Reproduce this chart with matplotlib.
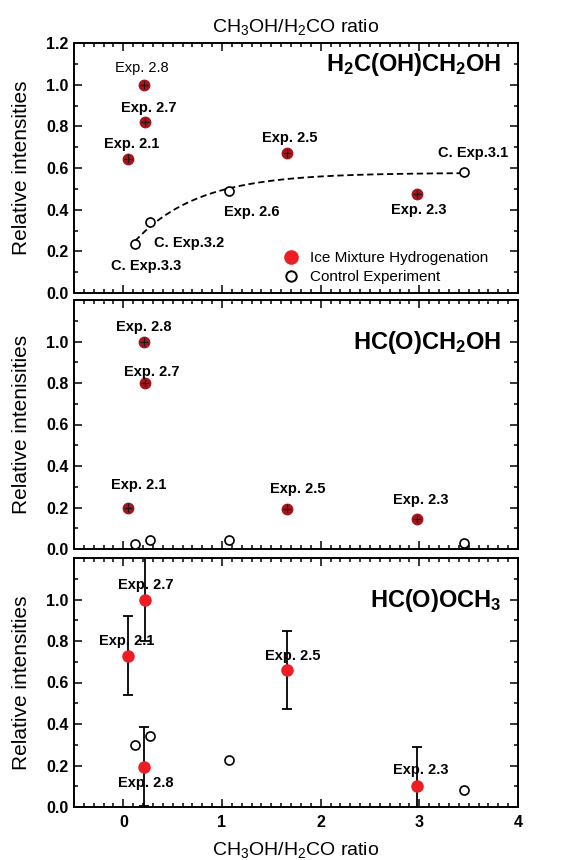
import numpy as np
import matplotlib
matplotlib.use("Agg")
import matplotlib.pyplot as plt
from matplotlib.ticker import MultipleLocator
from matplotlib.lines import Line2D

plt.rcParams['font.family'] = ['Liberation Sans', 'DejaVu Sans']
plt.rcParams['mathtext.default'] = 'regular'

# ---- data ----
ctrl_x = [0.12, 0.27, 1.07, 3.45]

# panel 1: H2C(OH)CH2OH
p1_labels = ["Exp. 2.1", "Exp. 2.7", "Exp. 2.8", "Exp. 2.5", "Exp. 2.3"]
p1_x = [0.05, 0.22, 0.21, 1.66, 2.98]
p1_y = [0.645, 0.82, 1.0, 0.67, 0.475]
p1_ctrl_y = [0.235, 0.34, 0.49, 0.58]
p1_ctrl_labels = ["C. Exp.3.3", "C. Exp.3.2", "Exp. 2.6", "C. Exp.3.1"]

# panel 2: HC(O)CH2OH
p2_labels = ["Exp. 2.1", "Exp. 2.7", "Exp. 2.8", "Exp. 2.5", "Exp. 2.3"]
p2_x = [0.05, 0.22, 0.21, 1.66, 2.98]
p2_y = [0.20, 0.80, 1.0, 0.195, 0.145]
p2_ctrl_y = [0.025, 0.045, 0.045, 0.03]

# panel 3: HC(O)OCH3
p3_labels = ["Exp. 2.1", "Exp. 2.7", "Exp. 2.8", "Exp. 2.5", "Exp. 2.3"]
p3_x = [0.05, 0.22, 0.21, 1.66, 2.98]
p3_y = [0.73, 1.0, 0.195, 0.66, 0.10]
p3_err = [0.19, 0.20, 0.19, 0.19, 0.19]
p3_ctrl_y = [0.30, 0.34, 0.225, 0.08]

small_xerr = [0.04, 0.04, 0.04, 0.04, 0.04]
small_yerr = [0.02, 0.02, 0.02, 0.02, 0.02]

compounds = [r"H$_2$C(OH)CH$_2$OH", r"HC(O)CH$_2$OH", r"HC(O)OCH$_3$"]
ylabels = ["Relative intensities", "Relative intenisities", "Relative intensities"]
xticks = [0, 1, 2, 3, 4]

# ---- figure ----
W, H = 568, 860
fig = plt.figure(figsize=(W / 100, H / 100), dpi=100)
left, right = 74 / W, 518 / W
boxes = [(43, 293), (300, 549), (558, 807)]
axes = []
for (t, b) in boxes:
    ax = fig.add_axes([left, 1 - b / H, right - left, (b - t) / H])
    axes.append(ax)

dark_red = '#a8141c'
bright_red = '#ee1c24'

for i, ax in enumerate(axes):
    ax.set_xlim(-0.5, 4)
    ax.set_ylim(0, 1.2)
    ax.xaxis.set_major_locator(MultipleLocator(1))
    ax.xaxis.set_minor_locator(MultipleLocator(0.1))
    if i == 0:
        ax.set_yticks([0, 0.2, 0.4, 0.6, 0.8, 1.0, 1.2])
    else:
        ax.set_yticks([0, 0.2, 0.4, 0.6, 0.8, 1.0])
    ax.yaxis.set_minor_locator(MultipleLocator(0.1))
    ax.tick_params(which='both', direction='in', top=True, right=True, width=1.1)
    ax.tick_params(which='major', length=6)
    ax.tick_params(which='minor', length=3)
    ax.tick_params(axis='y', labelsize=11.5, pad=4)
    ax.tick_params(axis='x', labelsize=11.5, pad=6)
    for lab in ax.get_yticklabels():
        lab.set_fontweight('bold')
    for s in ax.spines.values():
        s.set_linewidth(1.4)
    if i < 2:
        ax.tick_params(axis='x', labelbottom=False)
    else:
        ax.set_xticks(xticks)
        ax.set_xticklabels([str(v) for v in xticks], fontweight='bold')
    ax.set_ylabel(ylabels[i], fontsize=15, labelpad=11)
    ax.text(0.962, 0.915 if i == 0 else 0.83, compounds[i], transform=ax.transAxes,
            ha='right', va='center', fontsize=17, fontweight='bold')

def small_points(ax, xs, ys):
    ax.plot(xs, ys, 'o', color=dark_red, ms=7.5, mec=dark_red, zorder=3)
    ax.errorbar(xs, ys, xerr=small_xerr, yerr=small_yerr, fmt='none',
                ecolor='#1a1a1a', elinewidth=0.9, zorder=4)

# panel 1
ax = axes[0]
small_points(ax, p1_x, p1_y)
ax.plot(ctrl_x, p1_ctrl_y, 'o', mfc='white', mec='black', ms=6.5, mew=1.2, zorder=4)
# exponential saturation fit to control points
cx = np.array(ctrl_x); cy = np.array(p1_ctrl_y)
best = None
for tau in np.linspace(0.1, 3, 300):
    M = np.column_stack([np.ones_like(cx), np.exp(-cx / tau)])
    coef, res, *_ = np.linalg.lstsq(M, cy, rcond=None)
    r = np.sum((M @ coef - cy) ** 2)
    if best is None or r < best[0]:
        best = (r, tau, coef)
_, tau, coef = best
xf = np.linspace(cx.min(), cx.max(), 200)
ax.plot(xf, coef[0] + coef[1] * np.exp(-xf / tau), color='black', lw=1.3,
        dashes=(3.5, 2), zorder=2)

p1_lab_pos = [(0.08, 0.715), (0.26, 0.89), (0.19, 1.08), (1.69, 0.745), (2.99, 0.40)]
for lab, (lx, ly) in zip(p1_labels, p1_lab_pos):
    ax.text(lx, ly, lab, ha='center', va='center', fontsize=10.5,
            fontweight='normal' if lab == "Exp. 2.8" else 'bold')
p1_ctrl_pos = [(0.23, 0.13), (0.67, 0.24), (1.30, 0.39), (3.54, 0.67)]
for lab, (lx, ly) in zip(p1_ctrl_labels, p1_ctrl_pos):
    ax.text(lx, ly, lab, ha='center', va='center', fontsize=10.5, fontweight='bold')

handles = [Line2D([], [], marker='o', ls='', color=bright_red, ms=9.5),
           Line2D([], [], marker='o', ls='', mfc='white', mec='black', ms=7.5, mew=1.4)]
ax.legend(handles, ["Ice Mixture Hydrogenation", "Control Experiment"], loc='lower left',
          bbox_to_anchor=(0.455, 0.01), frameon=False, fontsize=11, handlelength=1.2,
          handletextpad=0.6, labelspacing=0.35, borderaxespad=0)

# panel 2
ax = axes[1]
small_points(ax, p2_x, p2_y)
ax.plot(ctrl_x, p2_ctrl_y, 'o', mfc='white', mec='black', ms=6.5, mew=1.2, zorder=4)
p2_lab_pos = [(0.16, 0.31), (0.29, 0.855), (0.21, 1.07), (1.77, 0.29), (3.01, 0.235)]
for lab, (lx, ly) in zip(p2_labels, p2_lab_pos):
    ax.text(lx, ly, lab, ha='center', va='center', fontsize=10.5, fontweight='bold')

# panel 3
ax = axes[2]
ax.errorbar(p3_x, p3_y, yerr=p3_err, fmt='o', color=bright_red, ecolor='black',
            elinewidth=1.3, capsize=3.5, capthick=1.3, ms=8, zorder=3)
ax.plot(ctrl_x, p3_ctrl_y, 'o', mfc='white', mec='black', ms=6.5, mew=1.2, zorder=4)
p3_lab_pos = [(0.03, 0.80), (0.23, 1.07), (0.23, 0.115), (1.72, 0.73), (3.01, 0.18)]
for lab, (lx, ly) in zip(p3_labels, p3_lab_pos):
    ax.text(lx, ly, lab, ha='center', va='center', fontsize=10.5, fontweight='bold', zorder=5)
ax.set_xlabel(r"CH$_3$OH/H$_2$CO ratio", fontsize=14, labelpad=7)

axes[0].set_title(r"CH$_3$OH/H$_2$CO ratio", fontsize=14, pad=8)

fig.savefig("out.png", dpi=100)
